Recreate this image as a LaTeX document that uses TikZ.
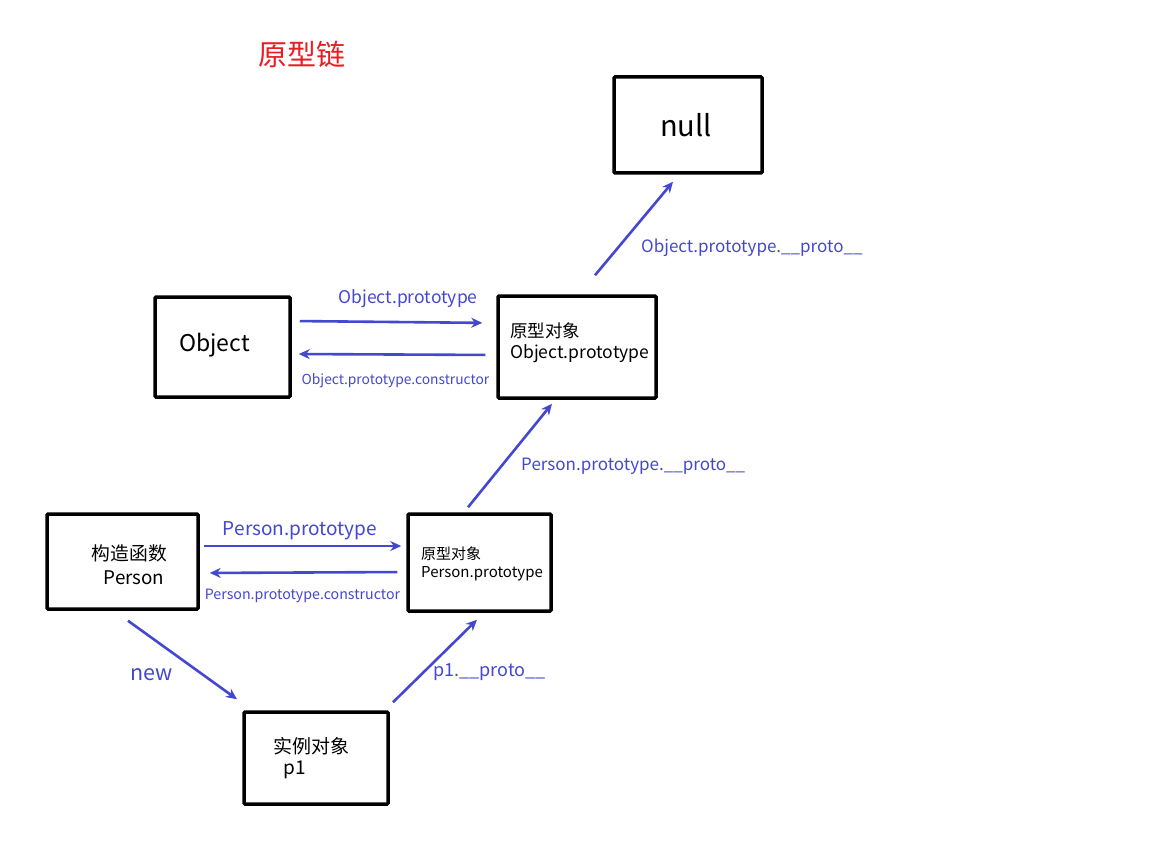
\documentclass[tikz,border=0pt]{standalone}
\usepackage{fontspec}
\setmainfont{Noto Sans CJK SC}
\usetikzlibrary{arrows.meta,calc}
\definecolor{arrblue}{RGB}{68,72,208}
\definecolor{titlered}{RGB}{232,30,36}
\tikzset{
  box/.style={draw=black,line width=3.5pt,rounded corners=1pt,inner sep=0pt},
  arr/.style={draw=arrblue,line width=2.6pt,-{Stealth[length=11pt,width=10pt]}},
  lbl/.style={text=arrblue,inner sep=0pt,anchor=center,yshift=-2.5pt},
  txt/.style={text=black,inner sep=0pt,yshift=-2pt}
}
\begin{document}
\begin{tikzpicture}[x=1pt,y=-1pt]
\useasboundingbox[fill=white] (0,0) rectangle (1149,853);
% title
\node[inner sep=0pt,text=titlered,font=\fontsize{29}{32}\selectfont,yshift=-1pt] (title) at (302,53) {原型链};
% boxes
\node[box,minimum width=148pt,minimum height=96pt] (null) at (688,125) {};
\node[box,minimum width=135pt,minimum height=100pt] (obj) at (222.5,347) {};
\node[box,minimum width=158pt,minimum height=102pt] (oproto) at (577,347) {};
\node[box,minimum width=151pt,minimum height=95pt] (person) at (122.5,561.5) {};
\node[box,minimum width=143pt,minimum height=97pt] (pproto) at (479.5,562.5) {};
\node[box,minimum width=144pt,minimum height=92pt] (p1) at (316,758) {};
% box texts
\node[txt,font=\fontsize{29}{32}\selectfont,yshift=2pt] (nulltxt) at (686,125) {null};
\node[txt,font=\fontsize{23}{27}\selectfont] (objtxt) at (214.5,343) {Object};
\node[txt,anchor=west,font=\fontsize{17.5}{20}\selectfont] (ot1) at (510,329) {原型对象};
\node[txt,anchor=west,font=\fontsize{17.5}{20}\selectfont] (ot2) at (510,352) {Object.prototype};
\node[txt,font=\fontsize{18.8}{22}\selectfont] (pt1) at (129.5,551) {构造函数};
\node[txt,font=\fontsize{18.8}{22}\selectfont] (pt2) at (134,576) {Person};
\node[txt,anchor=west,font=\fontsize{15}{18}\selectfont] (ppt1) at (421,552) {原型对象};
\node[txt,anchor=west,font=\fontsize{15}{18}\selectfont] (ppt2) at (421,572) {Person.prototype};
\node[txt,font=\fontsize{19}{22}\selectfont] (it1) at (311,744) {实例对象};
\node[txt,font=\fontsize{19}{22}\selectfont] (it2) at (295,768) {p1};
% connectors
\draw[arr,shorten <=8pt,shorten >=14pt] (obj.east |- {(0,321)}) -- (oproto.west |- {(0,323)});
\draw[arr,shorten <=11pt,shorten >=7pt] (oproto.west |- {(0,355)}) -- (obj.east |- {(0,354)});
\draw[arr] ($(oproto.north)+(18,-19)$) -- ($(null.south)+(-15,7)$);
\draw[arr] ($(pproto.north)+(-11.5,-5)$) -- ($(oproto.south)+(-25,4)$);
\draw[arr,shorten <=4pt,shorten >=5pt] (person.east |- {(0,546)}) -- (pproto.west |- {(0,546)});
\draw[arr,shorten <=9pt,shorten >=10pt] (pproto.west |- {(0,572)}) -- (person.east |- {(0,573)});
\draw[arr] ($(person.south)+(5.5,10)$) -- ($(p1.north)+(-79,-11)$);
\draw[arr] ($(p1.north)+(77,-8)$) -- ($(pproto.south)+(-2.5,7)$);
% connector labels
\node[lbl,font=\fontsize{17.5}{20}\selectfont] (l1) at (408,296) {Object.prototype};
\node[lbl,font=\fontsize{13.8}{16}\selectfont] (l2) at (395.5,378) {Object.prototype.constructor};
\node[lbl,anchor=west,font=\fontsize{17}{20}\selectfont] (l3) at (641,245) {Object.prototype.\_\_proto\_\_};
\node[lbl,anchor=west,font=\fontsize{17}{20}\selectfont] (l4) at (521,464) {Person.prototype.\_\_proto\_\_};
\node[lbl,font=\fontsize{19}{22}\selectfont] (l5) at (300,528) {Person.prototype};
\node[lbl,font=\fontsize{14.2}{17}\selectfont] (l6) at (302.5,593) {Person.prototype.constructor};
\node[lbl,font=\fontsize{21.5}{24}\selectfont] (l7) at (151.5,672) {new};
\node[lbl,anchor=west,font=\fontsize{18}{21}\selectfont] (l8) at (433,670) {p1.\_\_proto\_\_};
\end{tikzpicture}
\end{document}
